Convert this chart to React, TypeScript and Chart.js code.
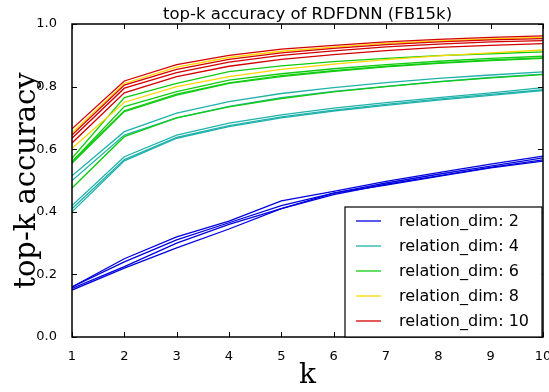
import React, { useEffect, useRef } from "react";
import { Chart, registerables } from "chart.js";

Chart.register(...registerables);

const kValues = [1, 2, 3, 4, 5, 6, 7, 8, 9, 10];
const title = "top-k accuracy of RDFDNN (FB15k)";
const xLabel = "k";
const yLabel = "top-k accuracy";
const legendLabels = ["relation_dim: 2", "relation_dim: 4", "relation_dim: 6", "relation_dim: 8", "relation_dim: 10"];
const groupColors = ["#0000dd", "#20b2aa", "#11cc11", "#ffd700", "#d40000"];

// relation_dim: 2
const blue1 = [0.16, 0.25, 0.32, 0.37, 0.435, 0.465, 0.497, 0.525, 0.552, 0.578];
const blue2 = [0.16, 0.24, 0.31, 0.365, 0.42, 0.46, 0.492, 0.52, 0.546, 0.572];
const blue3 = [0.155, 0.225, 0.3, 0.36, 0.41, 0.455, 0.488, 0.515, 0.542, 0.566];
const blue4 = [0.15, 0.22, 0.285, 0.345, 0.41, 0.46, 0.485, 0.513, 0.54, 0.562];
// relation_dim: 4
const teal1 = [0.515, 0.656, 0.715, 0.752, 0.778, 0.797, 0.813, 0.826, 0.837, 0.847];
const teal2 = [0.5, 0.645, 0.7, 0.737, 0.765, 0.785, 0.801, 0.816, 0.829, 0.84];
const teal3 = [0.42, 0.576, 0.645, 0.683, 0.71, 0.731, 0.749, 0.765, 0.78, 0.797];
const teal4 = [0.41, 0.567, 0.638, 0.675, 0.703, 0.725, 0.743, 0.76, 0.775, 0.79];
const teal5 = [0.4, 0.563, 0.635, 0.672, 0.7, 0.722, 0.74, 0.757, 0.772, 0.787];
// relation_dim: 6
const green1 = [0.571, 0.765, 0.81, 0.848, 0.866, 0.88, 0.89, 0.899, 0.905, 0.911];
const green2 = [0.56, 0.736, 0.784, 0.821, 0.841, 0.857, 0.87, 0.881, 0.89, 0.897];
const green3 = [0.555, 0.72, 0.773, 0.81, 0.832, 0.849, 0.863, 0.874, 0.883, 0.89];
const green4 = [0.56, 0.723, 0.776, 0.812, 0.835, 0.851, 0.865, 0.876, 0.885, 0.892];
const green5 = [0.476, 0.64, 0.7, 0.735, 0.762, 0.783, 0.8, 0.815, 0.828, 0.838];
// relation_dim: 8
const yellow1 = [0.652, 0.81, 0.862, 0.893, 0.913, 0.926, 0.938, 0.946, 0.952, 0.957];
const yellow2 = [0.603, 0.75, 0.8, 0.832, 0.855, 0.872, 0.886, 0.898, 0.908, 0.917];
// relation_dim: 10
const red1 = [0.665, 0.818, 0.87, 0.9, 0.92, 0.932, 0.943, 0.951, 0.957, 0.962];
const red2 = [0.645, 0.805, 0.855, 0.887, 0.908, 0.922, 0.934, 0.943, 0.949, 0.953];
const red3 = [0.635, 0.795, 0.845, 0.878, 0.9, 0.914, 0.927, 0.936, 0.943, 0.947];
const red4 = [0.62, 0.78, 0.832, 0.865, 0.887, 0.902, 0.915, 0.925, 0.932, 0.937];

const groups = [
  [blue1, blue2, blue3, blue4],
  [teal1, teal2, teal3, teal4, teal5],
  [green1, green2, green3, green4, green5],
  [yellow1, yellow2],
  [red1, red2, red3, red4],
];

const frameAndLegend = {
  id: "frameAndLegend",
  afterDraw(chart: any) {
    const ctx = chart.ctx;
    const ca = chart.chartArea;
    const xs = chart.scales.x;
    const ys = chart.scales.y;
    ctx.save();
    ctx.strokeStyle = "#000";
    ctx.lineWidth = 1;
    const tl = 5;
    xs.ticks.forEach((t: any) => {
      const px = Math.round(xs.getPixelForValue(t.value)) + 0.5;
      ctx.beginPath();
      ctx.moveTo(px, ca.bottom);
      ctx.lineTo(px, ca.bottom - tl);
      ctx.moveTo(px, ca.top);
      ctx.lineTo(px, ca.top + tl);
      ctx.stroke();
    });
    ys.ticks.forEach((t: any) => {
      const py = Math.round(ys.getPixelForValue(t.value)) + 0.5;
      ctx.beginPath();
      ctx.moveTo(ca.left, py);
      ctx.lineTo(ca.left + tl, py);
      ctx.moveTo(ca.right, py);
      ctx.lineTo(ca.right - tl, py);
      ctx.stroke();
    });
    ctx.lineWidth = 1.5;
    ctx.strokeRect(ca.left, ca.top, ca.right - ca.left, ca.bottom - ca.top);

    // legend
    const bw = 197;
    const bh = 130;
    const bx = ca.right - 1 - bw;
    const by = ca.bottom - bh;
    ctx.fillStyle = "#fff";
    ctx.fillRect(bx, by, bw, bh);
    ctx.lineWidth = 1.2;
    ctx.strokeRect(bx, by, bw, bh);
    ctx.font = "16px 'DejaVu Sans'";
    ctx.textBaseline = "middle";
    ctx.textAlign = "left";
    legendLabels.forEach((lab, i) => {
      const yy = by + 14 + i * 25;
      ctx.strokeStyle = groupColors[i];
      ctx.lineWidth = 1.3;
      ctx.beginPath();
      ctx.moveTo(bx + 11, yy);
      ctx.lineTo(bx + 36, yy);
      ctx.stroke();
      ctx.fillStyle = "#000";
      ctx.fillText(lab, bx + 54, yy + 1);
    });

    // title and axis labels
    ctx.fillStyle = "#000";
    ctx.textAlign = "center";
    ctx.textBaseline = "alphabetic";
    ctx.font = "16.5px 'DejaVu Sans'";
    ctx.fillText(title, (ca.left + ca.right) / 2, 19);
    ctx.font = "28px 'DejaVu Serif'";
    ctx.fillText(xLabel, (ca.left + ca.right) / 2, 383);
    ctx.save();
    ctx.translate(35, (ca.top + ca.bottom) / 2);
    ctx.rotate(-Math.PI / 2);
    ctx.font = "29px 'DejaVu Serif'";
    ctx.fillText(yLabel, 0, 0);
    ctx.restore();
    ctx.restore();
  },
};

export default function App() {
  const ref = useRef<HTMLCanvasElement>(null);
  useEffect(() => {
    document.body.style.margin = "0";
    const datasets: any[] = [];
    let total = 0;
    groups.forEach((g) => (total += g.length));
    let idx = 0;
    groups.forEach((g, gi) => {
      g.forEach((vals) => {
        datasets.push({
          data: kValues.map((k, i) => ({ x: k, y: vals[i] })),
          borderColor: groupColors[gi],
          borderWidth: 1.3,
          pointRadius: 0,
          tension: 0,
          fill: false,
          order: total - idx,
        });
        idx++;
      });
    });
    const chart = new Chart(ref.current as HTMLCanvasElement, {
      type: "line",
      data: { datasets },
      options: {
        animation: false,
        responsive: false,
        maintainAspectRatio: false,
        layout: { padding: { top: 24, right: 6, left: 0, bottom: 0 } },
        plugins: { legend: { display: false }, title: { display: false }, tooltip: { enabled: false } },
        scales: {
          x: {
            type: "linear",
            min: 1,
            max: 10,
            ticks: {
              stepSize: 1,
              padding: 4,
              color: "#000",
              maxRotation: 0,
              font: { family: "'DejaVu Sans'", size: 13 },
            },
            grid: { display: false },
            border: { display: false },
            afterFit: (s: any) => {
              s.height = 55;
              s.paddingLeft = 0;
              s.paddingRight = 0;
            },
          },
          y: {
            type: "linear",
            min: 0,
            max: 1,
            ticks: {
              stepSize: 0.2,
              padding: 7,
              color: "#000",
              font: { family: "'DejaVu Sans'", size: 13 },
              callback: (v: any) => Number(v).toFixed(1),
            },
            grid: { display: false },
            border: { display: false },
            afterFit: (s: any) => {
              s.width = 72;
              s.paddingTop = 0;
              s.paddingBottom = 0;
            },
          },
        },
      },
      plugins: [frameAndLegend],
    });
    return () => chart.destroy();
  }, []);
  return (
    <div style={{ width: 549, height: 392 }}>
      <canvas ref={ref} width={549} height={392} />
    </div>
  );
}
